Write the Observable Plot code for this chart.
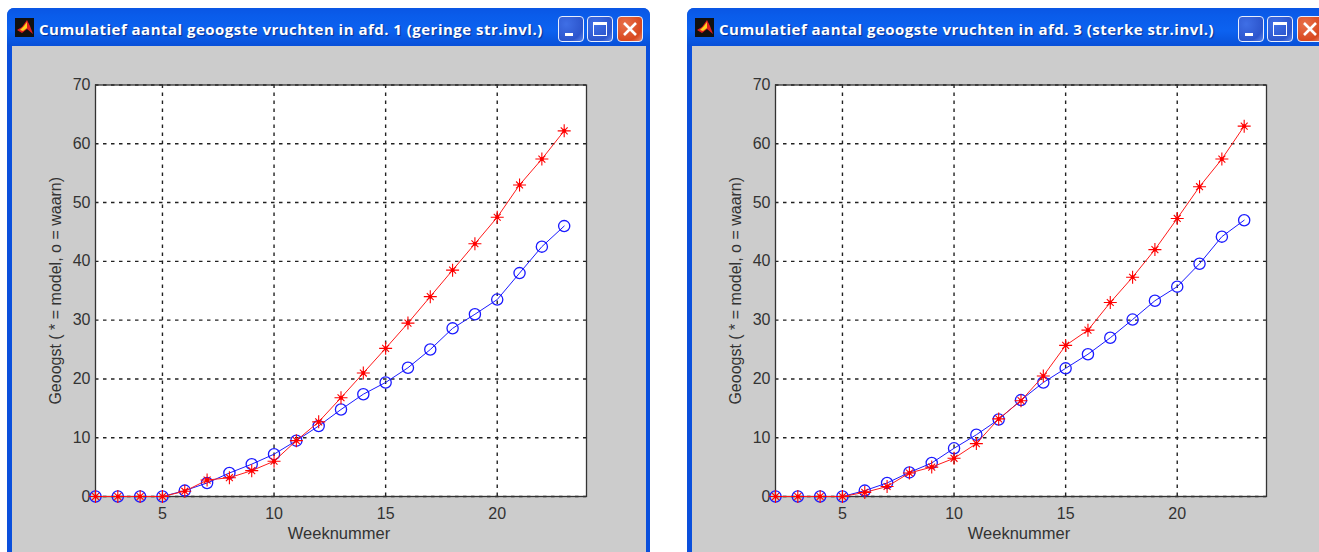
<!DOCTYPE html>
<html><head><meta charset="utf-8">
<script src="https://cdn.jsdelivr.net/npm/d3@7"></script>
<script src="https://cdn.jsdelivr.net/npm/@observablehq/plot@0.6"></script>
<style>
html,body{margin:0;padding:0;background:#fff;width:1319px;height:552px;overflow:hidden}
.win{position:absolute;top:8px;width:643px;height:560px;border-radius:7px 7px 0 0;background:#0a4fdc;box-sizing:border-box}
.bar{position:absolute;left:0;right:0;top:0;height:38px;border-radius:7px 7px 0 0;background:linear-gradient(#0a56e4,#0a5cea 20%,#0c62f0 60%,#0850d8)}
.content{position:absolute;left:5px;right:4px;top:38px;bottom:0;background:#cccccc}
.title{position:absolute;left:32px;top:11px;color:#fff;font:bold 15px "Open Sans",sans-serif;white-space:nowrap;letter-spacing:.48px;text-shadow:1px 1px 1px #0a2f90}
.icon{position:absolute;left:8px;top:10px;width:19px;height:19px}
.btn{position:absolute;top:8px;width:26px;height:26px;box-sizing:border-box;border:1px solid #e8eefc;border-radius:4px;background:radial-gradient(circle at 30% 30%,#3f6fe6,#2c55cc 70%,#5e86ea)}
.btn.close{background:radial-gradient(circle at 30% 30%,#e8704a,#d8481f 70%,#e88a70)}
.btn svg{display:block}
</style></head><body>
<div id="root"></div>
<script>
const weeks = [2,3,4,5,6,7,8,9,10,11,12,13,14,15,16,17,18,19,20,21,22,23];
const model1 = [0,0,0,0,0.9,2.8,3.2,4.4,6,9.5,12.7,16.8,21,25.2,29.5,34,38.5,43,47.5,53,57.4,62.2];
const real1  = [0,0,0,0,1,2.3,4,5.5,7.2,9.5,12,14.8,17.4,19.4,21.9,25,28.6,31,33.5,38,42.5,46];
const model3 = [0,0,0,0,0.7,1.7,4,5,6.5,9,13.2,16.3,20.5,25.7,28.3,33,37.3,42,47.3,52.7,57.4,63];
const real3  = [0,0,0,0,1,2.3,4.1,5.7,8.2,10.5,13.1,16.4,19.4,21.8,24.2,27,30.1,33.3,35.7,39.6,44.2,47];
const xTicks = [5,10,15,20];
const yTicks = [0,10,20,30,40,50,60,70];
const title1 = "Cumulatief aantal geoogste vruchten in afd. 1 (geringe str.invl.)";
const title3 = "Cumulatief aantal geoogste vruchten in afd. 3 (sterke str.invl.)";
const xLabel = "Weeknummer";
const yLabel = "Geoogst ( * = model, o = waarn)";

// eight-armed star, as the reference's marker
const star = {draw(ctx,size){
  const r=Math.sqrt(size/Math.PI);
  for(let k=0;k<4;k++){
    const a=k*Math.PI/4, dx=r*Math.cos(a), dy=r*Math.sin(a), f=(k%2)?0.75:1;
    ctx.moveTo(-dx*f,-dy*f); ctx.lineTo(dx*f,dy*f);
  }
  ctx.closePath();
}};

function chart(model, real){
  const red = weeks.map((w,i)=>({w,v:model[i]}));
  const blue = weeks.map((w,i)=>({w,v:real[i]}));
  return Plot.plot({
    width:634,height:506,
    marginLeft:83,marginRight:60,marginTop:38.5,marginBottom:56,
    style:{background:"transparent",fontFamily:"Liberation Sans",fontSize:"16px",color:"#333"},
    x:{domain:[2,24],type:"linear"},
    y:{domain:[0,70]},
    marks:[
      Plot.frame({fill:"#fff",stroke:"none"}),
      Plot.gridX(xTicks,{stroke:"#222",strokeOpacity:1,strokeDasharray:"3.5,4.5",strokeWidth:1.4}),
      Plot.gridY(yTicks,{stroke:"#222",strokeOpacity:1,strokeDasharray:"3.5,4.5",strokeWidth:1.4}),
      Plot.frame({stroke:"#333",strokeWidth:1.3}),
      Plot.axisX({ticks:xTicks,tickSize:0,tickPadding:11,label:null,tickFormat:d=>d,fontSize:16}),
      Plot.text([xLabel],{frameAnchor:"bottom",dx:-2,dy:42,text:d=>d,fontSize:16.5,fill:"#333",lineAnchor:"bottom"}),
      Plot.axisY({ticks:yTicks,tickSize:0,tickPadding:5,label:yLabel,labelAnchor:"center",labelArrow:"none",labelOffset:46,tickFormat:d=>d,fontSize:16}),
      Plot.line(blue,{x:"w",y:"v",stroke:"#1a1aff",strokeWidth:1}),
      Plot.dot(blue,{x:"w",y:"v",stroke:"#1a1aff",r:5.6,strokeWidth:1.3,fill:"none"}),
      Plot.line(red,{x:"w",y:"v",stroke:"#ff1a1a",strokeWidth:1}),
      Plot.dot(red,{x:"w",y:"v",stroke:"#ff0000",symbol:star,r:6.5,strokeWidth:1.1}),
      Plot.dot(red,{x:"w",y:"v",fill:"#ff0000",r:2})
    ]
  });
}
function icon(){
  return `<svg class="icon" viewBox="0 0 19 19"><rect width="19" height="19" fill="#111"/><path d="M2 12L7 9L12 2L15 8L18 16L12 11L7 15Z" fill="#e02020"/><path d="M5 12L9 8L12 4L12 10L8 13Z" fill="#ffd020"/></svg>`;
}
function buttons(){
  return `<div class="btn" style="left:551px"><svg width="24" height="24"><rect x="6" y="16" width="8" height="3" fill="#fff"/></svg></div>
  <div class="btn" style="left:580px"><svg width="24" height="24"><rect x="5.5" y="5.5" width="13" height="13" fill="none" stroke="#fff"/><rect x="5" y="5" width="14" height="3" fill="#fff"/></svg></div>
  <div class="btn close" style="left:610px"><svg width="24" height="24"><path d="M6 6L18 18M18 6L6 18" stroke="#fff" stroke-width="2.6"/></svg></div>`;
}
function panel(left,title,model,real){
  const w=document.createElement("div");
  w.className="win"; w.style.left=left+"px";
  w.innerHTML=`<div class="bar">${icon()}<div class="title">${title}</div>${buttons()}</div><div class="content"></div>`;
  const c=w.querySelector(".content");
  const p=chart(model,real);
  p.style.position="absolute";p.style.left="0";p.style.top="0";
  c.appendChild(p);
  document.getElementById("root").appendChild(w);
}
panel(7,title1,model1,real1);
panel(687,title3,model3,real3);
</script>
</body></html>
